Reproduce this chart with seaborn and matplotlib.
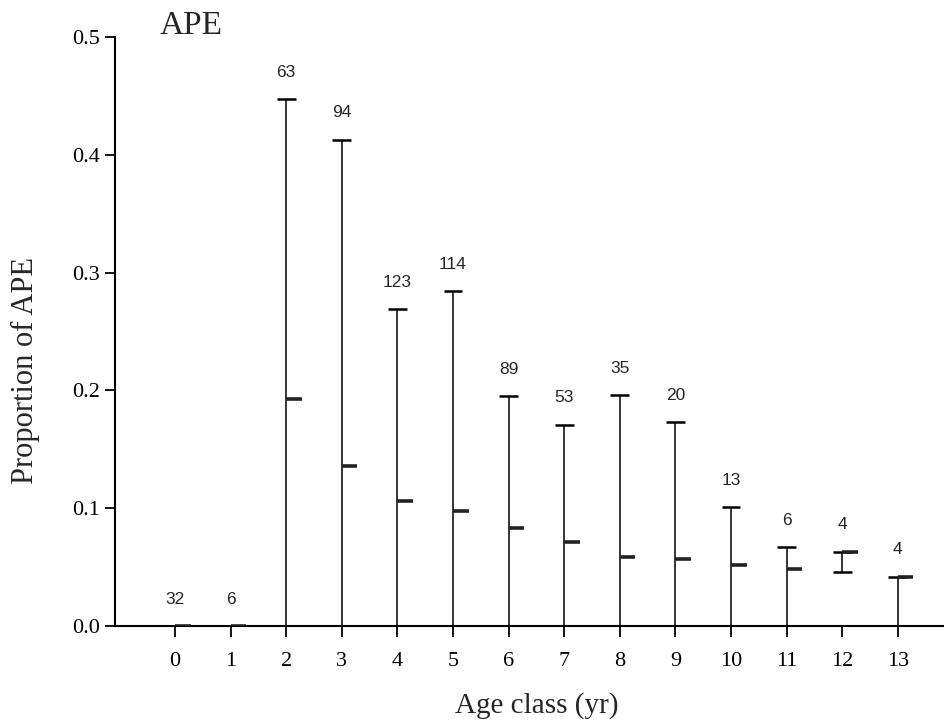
import numpy as np
import pandas as pd
import matplotlib
matplotlib.use("Agg")
import matplotlib.pyplot as plt
import seaborn as sns

# ---- data ----
age_class = [0, 1, 2, 3, 4, 5, 6, 7, 8, 9, 10, 11, 12, 13]
sample_n = [32, 6, 63, 94, 123, 114, 89, 53, 35, 20, 13, 6, 4, 4]
mean_ape = [0.0, 0.0, 0.193, 0.136, 0.106, 0.098, 0.083, 0.071, 0.059, 0.057, 0.052, 0.048, 0.063, 0.042]
lower_ci = [0.0, 0.0, 0.0, 0.0, 0.0, 0.0, 0.0, 0.0, 0.0, 0.0, 0.0, 0.0, 0.046, 0.0]
upper_ci = [0.0, 0.0, 0.447, 0.413, 0.269, 0.284, 0.195, 0.171, 0.196, 0.173, 0.101, 0.067, 0.063, 0.042]
y_ticks = [0.0, 0.1, 0.2, 0.3, 0.4, 0.5]

df = pd.DataFrame({"age": age_class, "n": sample_n, "mean": mean_ape,
                   "lo": lower_ci, "hi": upper_ci})

sns.set_style("ticks")
plt.rcParams["font.family"] = ["Liberation Serif", "DejaVu Serif"]

fig = plt.figure(figsize=(9.45, 7.26), dpi=100)
ax = fig.add_axes([0.1217, 0.1377, 0.8783, 0.8113])

# confidence lines
ax.vlines(df["age"], df["lo"], df["hi"], color="black", lw=1.1, zorder=3)
# upper caps
ax.hlines(df["hi"], df["age"] - 0.17, df["age"] + 0.17, color="black", lw=1.8, zorder=3)
# lower caps (only where interval does not start at zero)
lo_mask = df["lo"] > 0
ax.hlines(df.loc[lo_mask, "lo"], df.loc[lo_mask, "age"] - 0.17, df.loc[lo_mask, "age"] + 0.17,
          color="black", lw=1.8, zorder=3)
# mean ticks (to the right of each line)
ax.hlines(df["mean"], df["age"], df["age"] + 0.28, color="#222222", lw=2.6, zorder=4)

# sample sizes
for x, y, n in zip(df["age"], df["hi"], df["n"]):
    ax.annotate(str(n), (x, y), xytext=(0, 14), textcoords="offset points",
                ha="center", va="bottom", fontsize=12.5,
                family=["Liberation Sans", "DejaVu Sans"])

ax.set_xlim(-1.08, 13.85)
ax.set_ylim(0, 0.5)
ax.set_xticks(age_class)
ax.set_xticklabels([str(a) for a in age_class])
ax.set_yticks(y_ticks)
ax.set_yticklabels([f"{t:.1f}" for t in y_ticks])

sns.despine(ax=ax)
for s in ["left", "bottom"]:
    ax.spines[s].set_linewidth(1.5)
    ax.spines[s].set_color("black")

ax.tick_params(axis="y", direction="out", length=7, width=1.3, pad=4, labelsize=16, colors="black")
ax.tick_params(axis="x", direction="out", length=8, width=1.3, pad=11, labelsize=16, colors="black")

ax.set_xlabel("Age class (yr)", fontsize=21)
ax.set_ylabel("Proportion of APE", fontsize=22)
ax.xaxis.set_label_coords(0.508, -0.112)
ax.yaxis.set_label_coords(-0.090, 0.433)

fig.text(160 / 945, 1 - 34 / 726, "APE", fontsize=24, ha="left", va="baseline")

fig.savefig("out.png", dpi=100)
